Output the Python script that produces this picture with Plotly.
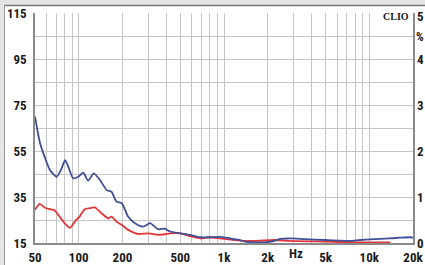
import math
import plotly.graph_objects as go

# ---- data ----
blue_freq = [50, 54, 58.6, 63.4, 70.5, 76.3, 80.5, 84.7, 91.7, 99.3, 107.4, 116, 127, 140, 156, 168, 182, 198,
             219, 244, 278, 310, 352, 392, 425, 500, 583, 686, 800, 940, 1100, 1290, 1390, 1630, 1900, 2230,
             2400, 2830, 3580, 4980, 6300, 7350, 8650, 10100, 13900, 16300, 19100, 20000]
blue_val = [70, 58.7, 52, 46.7, 43.8, 47.5, 51, 48.2, 43.1, 43.8, 45.6, 42.1, 45.3, 42.4, 38, 37.3, 33, 32.3,
            26.4, 23.6, 22.1, 23.6, 21, 21.2, 20, 19.2, 18.5, 17.5, 17.5, 17.7, 17, 16.3, 15.6, 15.3, 15.3, 15.9,
            16.7, 17, 16.7, 16.3, 16, 15.9, 16.3, 16.6, 17, 17.3, 17.5, 17.3]

red_freq = [50, 54, 58.6, 63.4, 68, 74, 80.5, 87, 94, 102, 110, 119, 129, 143, 160, 168, 182, 198, 219, 257,
            302, 352, 392, 425, 500, 583, 686, 800, 940, 1290, 1630, 2230, 2830, 4980, 8000, 14000]
red_val = [29.5, 32, 30.3, 29.7, 29.2, 26.4, 23.4, 21.6, 24.3, 26.7, 29.7, 30.1, 30.5, 28, 25.7, 26.5, 24.3,
           22.8, 20.7, 18.9, 19.2, 18.5, 18.8, 19.2, 19.2, 18, 17, 17.5, 17, 16, 15.9, 16.3, 15.9, 15.6, 15.3, 15.3]

x_grid = [50, 60, 70, 80, 90, 100, 200, 300, 400, 500, 600, 700, 800, 900, 1000,
          2000, 3000, 4000, 5000, 6000, 7000, 8000, 9000, 10000, 20000]
x_labels = {50: "50", 100: "100", 200: "200", 500: "500", 1000: "1k", 2000: "2k",
            5000: "5k", 10000: "10k", 20000: "20k"}
y_grid = [15, 25, 35, 45, 55, 65, 75, 85, 95, 105, 115]
y_labels = {15: "15", 35: "35", 55: "55", 75: "75", 95: "95", 115: "115"}
y2_ticks = [0, 1, 2, 3, 4, 5]

# ---- layout geometry ----
W, H = 425, 265
L, R, T, B = 35, 413, 13, 243

def px_x(p):
    return (p - L) / (R - L)

def px_y(p):
    return (B - p) / (B - T)

FONT = "Liberation Sans Narrow, Arial Narrow, Roboto Condensed, Liberation Sans, sans-serif"
GRID = "#c6c6c6"
AXIS = "#8a8a8a"
TXT = "#1a1a1a"

fig = go.Figure()
fig.add_trace(go.Scatter(x=red_freq, y=red_val, mode="lines",
                         line=dict(color="#e2353a", width=1.8, shape="spline", smoothing=0.6),
                         hoverinfo="skip", showlegend=False))
fig.add_trace(go.Scatter(x=blue_freq, y=blue_val, mode="lines",
                         line=dict(color="#3f4f98", width=1.8, shape="spline", smoothing=0.6),
                         hoverinfo="skip", showlegend=False))
# invisible trace on secondary axis
fig.add_trace(go.Scatter(x=[50], y=[0], yaxis="y2", mode="markers",
                         marker=dict(opacity=0), hoverinfo="skip", showlegend=False))

fig.update_layout(
    width=W, height=H, autosize=False,
    margin=dict(l=L, r=W - R, t=T, b=H - B, pad=0, autoexpand=False),
    paper_bgcolor="white", plot_bgcolor="white",
    font=dict(family=FONT, size=13, color=TXT),
    showlegend=False,
    xaxis=dict(type="log", range=[math.log10(50), math.log10(20000)], automargin=False,
               tickvals=x_grid, ticktext=[x_labels.get(v, "") for v in x_grid],
               showgrid=True, gridcolor=GRID, gridwidth=1,
               showline=True, linecolor=AXIS, linewidth=1.5,
               ticks="", zeroline=False, ticklabeloverflow="allow",
               tickfont=dict(family=FONT, size=13, weight="bold", color=TXT),
               ticklabelstandoff=2),
    yaxis=dict(range=[15, 115], automargin=False,
               tickvals=y_grid, ticktext=[y_labels.get(v, "") for v in y_grid],
               showgrid=True, gridcolor=GRID, gridwidth=1,
               showline=True, linecolor=AXIS, linewidth=1.5,
               ticks="", zeroline=False, ticklabeloverflow="allow",
               tickfont=dict(family=FONT, size=13, weight="bold", color=TXT),
               ticklabelstandoff=4),
    yaxis2=dict(range=[0, 5], overlaying="y", side="right", automargin=False,
                showgrid=False, showline=True, linecolor=AXIS, linewidth=1.5,
                ticks="", zeroline=False, showticklabels=False),
)

# right-hand axis labels (percent scale)
for v in y2_ticks:
    fig.add_annotation(x=1, y=v, xref="paper", yref="y2", xanchor="left", yanchor="middle",
                       xshift=2, yshift=-3 if v == 5 else 0,
                       text=str(v), showarrow=False,
                       font=dict(family=FONT, size=13, weight="bold", color=TXT))

# frame (gray band at top and left)
fig.add_shape(type="rect", xref="paper", yref="paper",
              x0=px_x(0), x1=px_x(W), y0=px_y(5), y1=px_y(0),
              fillcolor="#e4e4e4", line=dict(width=0), layer="below")
fig.add_shape(type="rect", xref="paper", yref="paper",
              x0=px_x(0), x1=px_x(4), y0=px_y(H), y1=px_y(0),
              fillcolor="#e4e4e4", line=dict(width=0), layer="below")
fig.add_shape(type="line", xref="paper", yref="paper",
              x0=px_x(4), x1=px_x(W), y0=px_y(5.5), y1=px_y(5.5),
              line=dict(color="#7a7a7a", width=1.5), layer="below")
fig.add_shape(type="line", xref="paper", yref="paper",
              x0=px_x(4.5), x1=px_x(4.5), y0=px_y(H), y1=px_y(5),
              line=dict(color="#9a9a9a", width=1), layer="below")

# annotations
fig.add_annotation(x=math.log10(3150), y=0, xref="x", yref="paper", yanchor="top", yshift=-1,
                   text="Hz", showarrow=False,
                   font=dict(family=FONT, size=13, weight="bold", color=TXT))
fig.add_annotation(x=px_x(411), y=px_y(16), xref="paper", yref="paper",
                   text="CLIO", showarrow=False, xanchor="right", yanchor="middle",
                   font=dict(family="Liberation Serif, DejaVu Serif, serif", size=10, weight="bold",
                             color=TXT))
fig.add_annotation(x=px_x(414), y=px_y(37), xref="paper", yref="paper",
                   text="%", showarrow=False, xanchor="left", yanchor="middle",
                   font=dict(family=FONT, size=12, weight="bold", color=TXT))

fig.write_html("out.html",
               config={"displayModeBar": False, "responsive": False},
               post_script="document.body.style.margin='0';document.body.style.overflow='hidden';")
